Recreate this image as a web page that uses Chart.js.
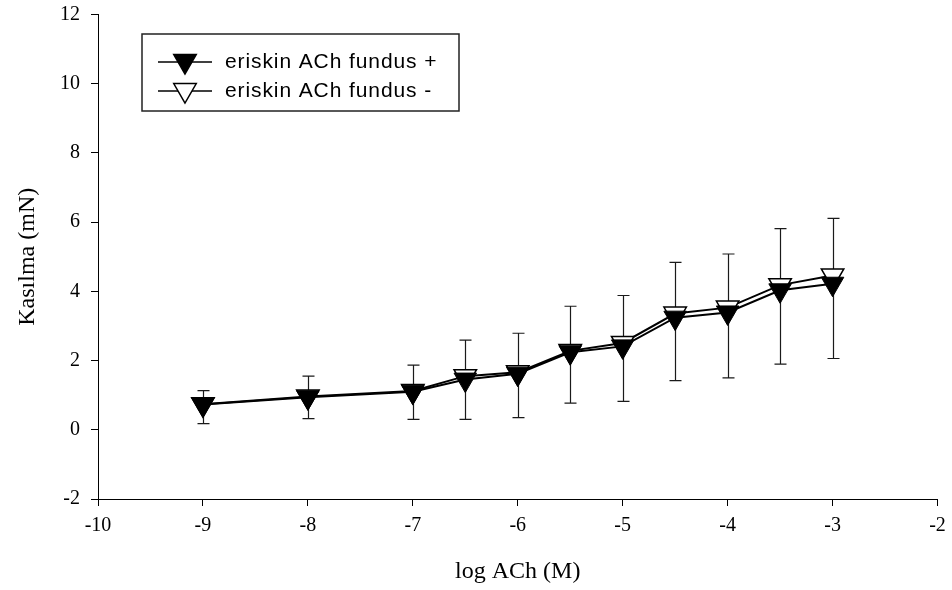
<!DOCTYPE html>
<html>
<head>
<meta charset="utf-8">
<script src="https://cdn.jsdelivr.net/npm/chart.js@4/dist/chart.umd.min.js"></script>
<style>
  html, body { margin: 0; padding: 0; background: #fff; }
  #wrap { width: 952px; height: 590px; }
</style>
</head>
<body>
<div id="wrap"><canvas id="curve" width="952" height="590"></canvas></div>
<script>
// dose-response: log concentration vs contraction
const logDose = [-9, -8, -7, -6.5, -6, -5.5, -5, -4.5, -4, -3.5, -3];
const fundusPlus = [0.73, 0.94, 1.10, 1.45, 1.62, 2.24, 2.41, 3.24, 3.39, 4.03, 4.22];
const fundusMinus = [0.74, 0.96, 1.12, 1.55, 1.66, 2.28, 2.51, 3.36, 3.53, 4.18, 4.46];
const errHigh = [1.13, 1.55, 1.87, 2.59, 2.79, 3.57, 3.88, 4.84, 5.08, 5.81, 6.11];
const errLow = [0.18, 0.32, 0.30, 0.30, 0.35, 0.77, 0.82, 1.42, 1.50, 1.90, 2.06];
const seriesNames = ["eriskin ACh fundus +", "eriskin ACh fundus -"];
const xTicks = [-10, -9, -8, -7, -6, -5, -4, -3, -2];
const yTicks = [-2, 0, 2, 4, 6, 8, 10, 12];

const serif = "'Liberation Serif', 'Times New Roman', serif";
const sans = "'Liberation Sans', Arial, sans-serif";

function toPoints(ys) {
  return logDose.map((x, i) => ({ x: x, y: ys[i] }));
}

// vertical SEM bars with caps, drawn under the markers
const errorBars = {
  id: "errorBars",
  beforeDatasetsDraw(chart) {
    const { ctx, scales: { x, y } } = chart;
    ctx.save();
    ctx.strokeStyle = "#1a1a1a";
    ctx.lineWidth = 1.2;
    logDose.forEach((d, i) => {
      const px = Math.round(x.getPixelForValue(d)) + 0.5;
      const top = y.getPixelForValue(errHigh[i]);
      const bot = y.getPixelForValue(errLow[i]);
      ctx.beginPath();
      ctx.moveTo(px, top);
      ctx.lineTo(px, bot);
      ctx.moveTo(px - 6, top);
      ctx.lineTo(px + 6, top);
      ctx.moveTo(px - 6, bot);
      ctx.lineTo(px + 6, bot);
      ctx.stroke();
    });
    ctx.restore();
  }
};

function legendTriangle(ctx, cx, cy, r, fill) {
  ctx.beginPath();
  for (let k = 0; k < 3; k++) {
    const a = Math.PI + k * 2 * Math.PI / 3;
    const px = cx + Math.sin(a) * r;
    const py = cy - Math.cos(a) * r;
    if (k === 0) ctx.moveTo(px, py); else ctx.lineTo(px, py);
  }
  ctx.closePath();
  ctx.fillStyle = fill;
  ctx.fill();
  ctx.lineWidth = 1.5;
  ctx.strokeStyle = "#000";
  ctx.stroke();
}

// boxed legend in the upper left of the plot
const boxLegend = {
  id: "boxLegend",
  afterDraw(chart) {
    const ctx = chart.ctx;
    const left = 142, top = 34, w = 317, h = 77;
    ctx.save();
    ctx.strokeStyle = "#222";
    ctx.lineWidth = 1.5;
    ctx.strokeRect(left, top, w, h);
    ctx.font = "21px " + sans;
    ctx.letterSpacing = "0.9px";
    ctx.textBaseline = "middle";
    chart.data.datasets.forEach((ds, i) => {
      const cy = 62 + i * 29;
      ctx.beginPath();
      ctx.moveTo(158, cy);
      ctx.lineTo(212, cy);
      ctx.lineWidth = 1.5;
      ctx.strokeStyle = "#000";
      ctx.stroke();
      legendTriangle(ctx, 185, cy - 1, 13, ds.pointBackgroundColor);
      ctx.fillStyle = "#000";
      ctx.fillText(ds.label, 225, cy);
    });
    ctx.restore();
  }
};

new Chart(document.getElementById("curve"), {
  type: "line",
  data: {
    datasets: [
      {
        label: seriesNames[0],
        data: toPoints(fundusPlus),
        borderColor: "#000",
        borderWidth: 2,
        pointStyle: "triangle",
        pointRotation: 180,
        pointRadius: 13,
        pointBackgroundColor: "#000",
        pointBorderColor: "#000",
        pointBorderWidth: 1,
        tension: 0
      },
      {
        label: seriesNames[1],
        data: toPoints(fundusMinus),
        borderColor: "#000",
        borderWidth: 2,
        pointStyle: "triangle",
        pointRotation: 180,
        pointRadius: 13,
        pointBackgroundColor: "#fff",
        pointBorderColor: "#000",
        pointBorderWidth: 1.5,
        tension: 0
      }
    ]
  },
  options: {
    responsive: false,
    animation: false,
    events: [],
    layout: { padding: { left: 0, right: 14, top: 12, bottom: 0 } },
    plugins: {
      legend: { display: false },
      tooltip: { enabled: false }
    },
    scales: {
      x: {
        type: "linear",
        min: -10,
        max: -2,
        afterFit(scale) {
          scale.height = 91;
          scale.paddingLeft = 0;
          scale.paddingRight = 0;
        },
        afterBuildTicks(scale) { scale.ticks = xTicks.map(v => ({ value: v })); },
        border: { display: true, color: "#000", width: 1 },
        grid: { drawOnChartArea: false, drawTicks: true, tickLength: 7, color: "#000" },
        ticks: {
          color: "#000",
          padding: 8,
          maxRotation: 0,
          font: { family: serif, size: 20 },
          callback: v => String(v)
        },
        title: {
          display: true,
          text: "log ACh (M)",
          color: "#000",
          font: { family: serif, size: 24 },
          padding: { top: 0, bottom: 4 }
        }
      },
      y: {
        type: "linear",
        min: -2,
        max: 12,
        afterFit(scale) {
          scale.width = 98;
          scale.paddingTop = 0;
          scale.paddingBottom = 0;
        },
        afterBuildTicks(scale) { scale.ticks = yTicks.map(v => ({ value: v })); },
        border: { display: true, color: "#000", width: 1 },
        grid: { drawOnChartArea: false, drawTicks: true, tickLength: 7, color: "#000" },
        ticks: {
          color: "#000",
          padding: 11,
          font: { family: serif, size: 20 },
          callback: v => String(v)
        },
        title: {
          display: true,
          text: "Kasılma (mN)",
          color: "#000",
          font: { family: serif, size: 24 },
          padding: { top: 13, bottom: 0 }
        }
      }
    }
  },
  plugins: [errorBars, boxLegend]
});
</script>
</body>
</html>
